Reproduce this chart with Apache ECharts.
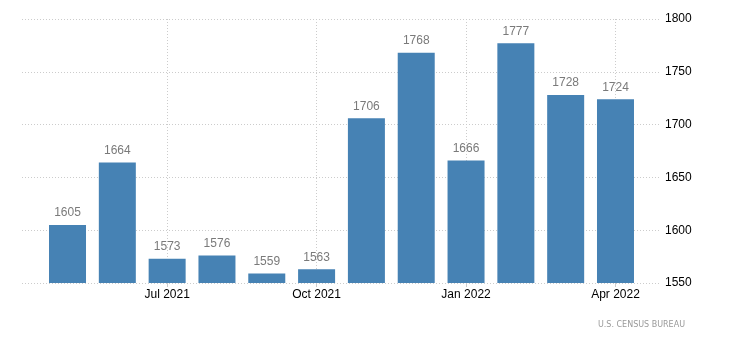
<!DOCTYPE html>
<html>
<head>
<meta charset="utf-8">
<script src="https://cdn.jsdelivr.net/npm/echarts@6/dist/echarts.min.js"></script>
<style>
html,body{margin:0;padding:0;background:#fff;}
#chart{width:730px;height:340px;}
</style>
</head>
<body>
<div id="chart"></div>
<script>
const categories = ['May 2021','Jun 2021','Jul 2021','Aug 2021','Sep 2021','Oct 2021','Nov 2021','Dec 2021','Jan 2022','Feb 2022','Mar 2022','Apr 2022'];
const values = [1605, 1664, 1573, 1576, 1559, 1563, 1706, 1768, 1666, 1777, 1728, 1724];
const yTicks = [1550, 1600, 1650, 1700, 1750, 1800];
const sourceText = 'U.S. CENSUS BUREAU';

const FONT = '"Liberation Sans", Arial, sans-serif';
const yMin = yTicks[0], yMax = yTicks[yTicks.length - 1], yStep = yTicks[1] - yTicks[0];
const showIdx = (i) => i % 3 === 2;

const chart = echarts.init(document.getElementById('chart'), null, {renderer: 'canvas'});
chart.setOption({
  animation: false,
  backgroundColor: '#fff',
  grid: [
    {left: 42.6, right: 89.6, top: 19, bottom: 57},
    {left: 22, right: 69, top: 19, bottom: 57}
  ],
  xAxis: [
    {
      type: 'category', gridIndex: 0, data: categories,
      axisLine: {show: false},
      axisTick: {show: true, alignWithLabel: true, interval: showIdx, length: 4, lineStyle: {color: '#ccc'}},
      splitLine: {show: true, alignWithLabel: true, interval: showIdx, lineStyle: {color: '#ccc', type: [1, 2]}},
      axisLabel: {interval: showIdx, color: '#000', fontFamily: FONT, fontSize: 12, margin: 6}
    },
    {type: 'value', gridIndex: 1, show: false}
  ],
  yAxis: [
    {type: 'value', gridIndex: 0, min: yMin, max: yMax, interval: yStep, show: false},
    {
      type: 'value', gridIndex: 1, position: 'right', min: yMin, max: yMax, interval: yStep,
      axisLine: {show: false}, axisTick: {show: false},
      splitLine: {show: true, lineStyle: {color: '#ccc', type: [1, 2]}},
      axisLabel: {color: '#000', fontFamily: FONT, fontSize: 12, margin: 4, formatter: (v) => String(v)}
    }
  ],
  series: [{
    type: 'bar', xAxisIndex: 0, yAxisIndex: 0,
    data: values, barWidth: 37,
    itemStyle: {color: '#4682B4'},
    label: {show: true, position: 'top', distance: 6, color: '#7a7a7a', fontFamily: FONT, fontSize: 12}
  }],
  graphic: [{
    type: 'text', right: 45, top: 321,
    style: {text: sourceText, fill: '#999', font: '8px "DejaVu Sans", sans-serif'}
  }]
});
</script>
</body>
</html>
